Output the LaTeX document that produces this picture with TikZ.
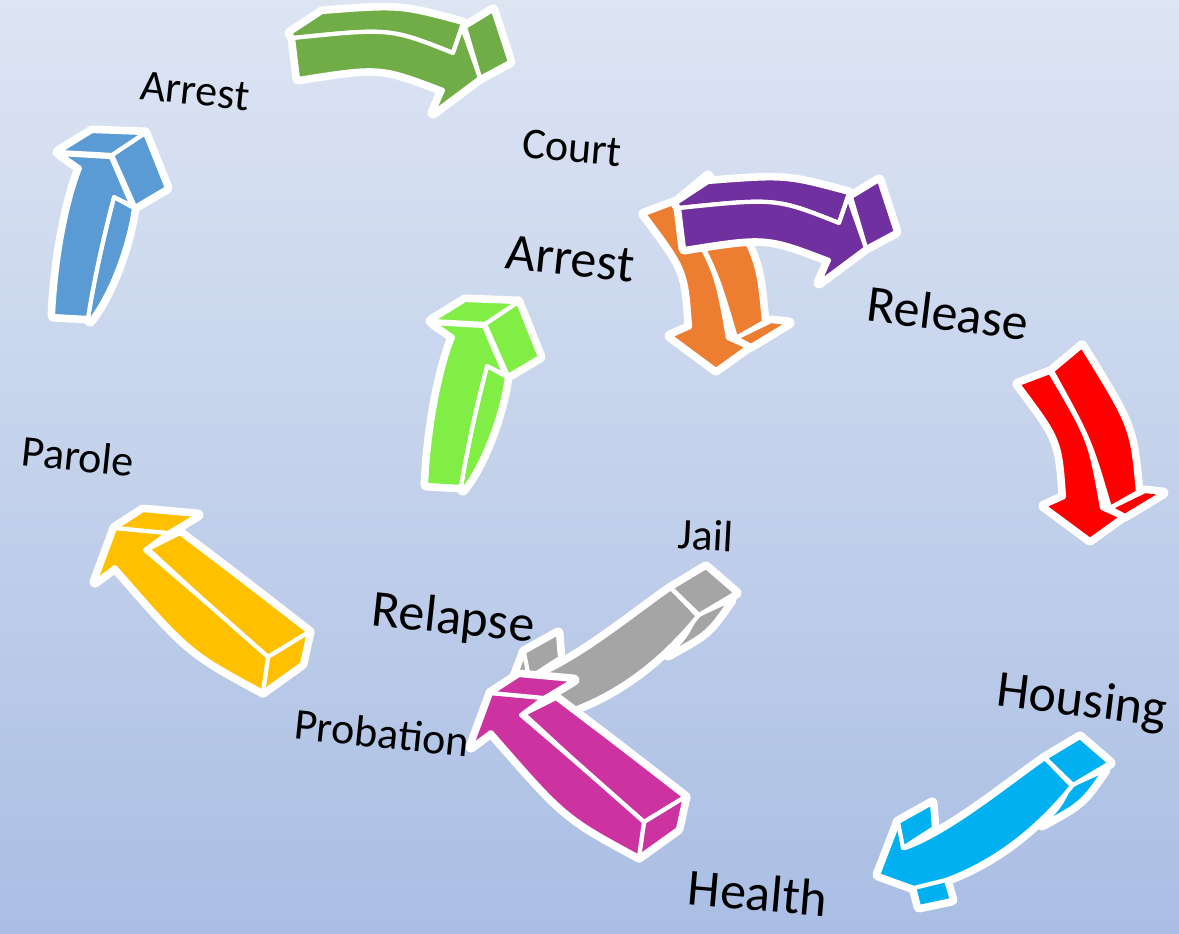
\documentclass[tikz,border=0pt]{standalone}
\usepackage{fontspec}
\setmainfont{Carlito}
\definecolor{bgtop}{RGB}{221,229,243}
\definecolor{bgbot}{RGB}{170,190,228}
\definecolor{cblue}{RGB}{91,155,213}
\definecolor{cgreen}{RGB}{112,173,71}
\definecolor{clime}{RGB}{128,238,68}
\definecolor{corange}{RGB}{237,125,49}
\definecolor{cpurple}{RGB}{112,48,160}
\definecolor{cred}{RGB}{255,0,0}
\definecolor{cyellow}{RGB}{255,192,0}
\definecolor{cmagenta}{RGB}{204,51,160}
\definecolor{cgray}{RGB}{165,165,165}
\definecolor{ccyan}{RGB}{0,176,240}
\tikzset{
  arhalo/.style={fill=white,draw=white,line width=11pt,line join=round},
  fc/.style={fill=#1,draw=white,line width=4.2pt,line join=round},
  lab/.style={inner sep=0pt,text=black},
  smalllab/.style={lab,font=\fontsize{44}{44}\selectfont},
  biglab/.style={lab,font=\fontsize{52}{52}\selectfont}
}
% Shape A: curved arrow pointing up (blue coordinates)
\newcommand\arrA[1]{%
  \path[#1] (114,197) -- (134,208) .. controls (129,245) and (111,295) .. (90,321) -- (88,318) .. controls (94,280) and (104,235) .. (114,197) -- cycle;
  \path[#1] (112,155) -- (145,133) -- (167,188) -- (135,207) -- cycle;
  \path[#1] (58,152) -- (92,131) -- (145,133) -- (112,155) -- cycle;
  \path[#1] (60,154) -- (111,157) -- (132,206) -- (114,197) .. controls (104,235) and (94,280) .. (88,318) -- (53,316) .. controls (56,250) and (69,195) .. (80,168) -- cycle;
}
% Shape B: arrow pointing right (top green coordinates)
\newcommand\arrB[1]{%
  \path[#1] (290,33) -- (322,12) .. controls (400,6) .. (463,23) -- (453,53) .. controls (390,28) .. (293,38) -- cycle;
  \path[#1] (293,38) .. controls (390,28) .. (453,53) -- (462,27) -- (480,78) -- (433,113) -- (443,90) .. controls (380,66) .. (298,79) -- cycle;
  \path[#1] (465,27) -- (493,10) -- (510,62) -- (480,78) -- cycle;
}
% Shape C: arrow pointing down (red coordinates)
\newcommand\arrC[1]{%
  \path[#1] (1052,371) -- (1082,346) .. controls (1132,427) .. (1138,492) -- (1110,508) .. controls (1090,440) .. (1052,371) -- cycle;
  \path[#1] (1018,384) -- (1050,372) .. controls (1090,440) .. (1102,508) -- (1122,517) -- (1090,540) -- (1044,506) -- (1064,497) .. controls (1060,440) .. (1018,384) -- cycle;
  \path[#1] (1110,508) -- (1145,491) -- (1163,493) -- (1125,516) -- cycle;
}
% Shape D: arrow pointing up-left (yellow coordinates)
\newcommand\arrD[1]{%
  \path[#1] (148,549) -- (180,533) .. controls (242,580) .. (309,632) -- (268,657) .. controls (200,597) .. (148,549) -- cycle;
  \path[#1] (268,657) -- (309,632) -- (302,664) -- (263,692) -- cycle;
  \path[#1] (115,528) -- (168,533) -- (145,550) .. controls (200,597) .. (268,657) -- (263,692) .. controls (189,652) .. (115,567) -- (95,582) -- cycle;
  \path[#1] (115,528) -- (143,510) -- (198,515) -- (168,533) -- cycle;
}
% Shape E: arrow pointing down-left (cyan coordinates)
\newcommand\arrE[1]{%
  \path[#1] (1070,786) -- (1105,770) .. controls (1082,803) .. (1042,825) .. controls (1060,806) .. (1070,786) -- cycle;
  \path[#1] (914,887) -- (946,880) -- (952,900) -- (919,907) -- cycle;
  \path[#1] (1045,758) .. controls (1010,782) and (950,832) .. (905,848) -- (898,823) -- (878,875) -- (914,888) -- (946,880) .. controls (1000,860) and (1040,825) .. (1072,786) -- cycle;
  \path[#1] (898,822) -- (932,803) -- (934,828) -- (903,848) -- cycle;
  \path[#1] (1045,758) -- (1080,737) -- (1110,763) -- (1073,785) -- cycle;
}
\newcommand\drawArr[2]{#1{arhalo}#1{fc=#2}}
\begin{document}
\begin{tikzpicture}[x=1pt,y=-1pt]
\path[use as bounding box] (0,0) rectangle (1179,934);
\fill[top color=bgtop,bottom color=bgbot] (0,0) rectangle (1179,934);
% arrows
\drawArr\arrA{cblue}
\drawArr\arrB{cgreen}
\begin{scope}[shift={(-374,-170)}]\drawArr\arrC{corange}\end{scope}
\begin{scope}[shift={(386,170)}]\drawArr\arrB{cpurple}\end{scope}
\begin{scope}[shift={(373,169)}]\drawArr\arrA{clime}\end{scope}
\drawArr\arrC{cred}
\drawArr\arrD{cyellow}
\begin{scope}[shift={(-374,-170)}]\drawArr\arrE{cgray}\end{scope}
\begin{scope}[shift={(376,165)}]\drawArr\arrD{cmagenta}\end{scope}
\drawArr\arrE{ccyan}
% labels
\node[smalllab,rotate=-6] (arrestA) at (195,91) {Arrest};
\node[smalllab,rotate=-5] (court) at (572,148) {Court};
\node[biglab,rotate=-6] (arrestB) at (570,259) {Arrest};
\node[biglab,rotate=-7] (release) at (948,313) {Release};
\node[smalllab,rotate=-6] (parole) at (78,456) {Parole};
\node[smalllab,rotate=-3] (jail) at (706,535) {Jail};
\node[biglab,rotate=-6] (relapse) at (453,620) {Relapse};
\node[smalllab,rotate=-6] (probation) at (382,733) {Probation};
\node[biglab,rotate=-7] (housing) at (1082,703) {Housing};
\node[biglab,rotate=-5] (health) at (758,893) {Health};
\end{tikzpicture}
\end{document}
